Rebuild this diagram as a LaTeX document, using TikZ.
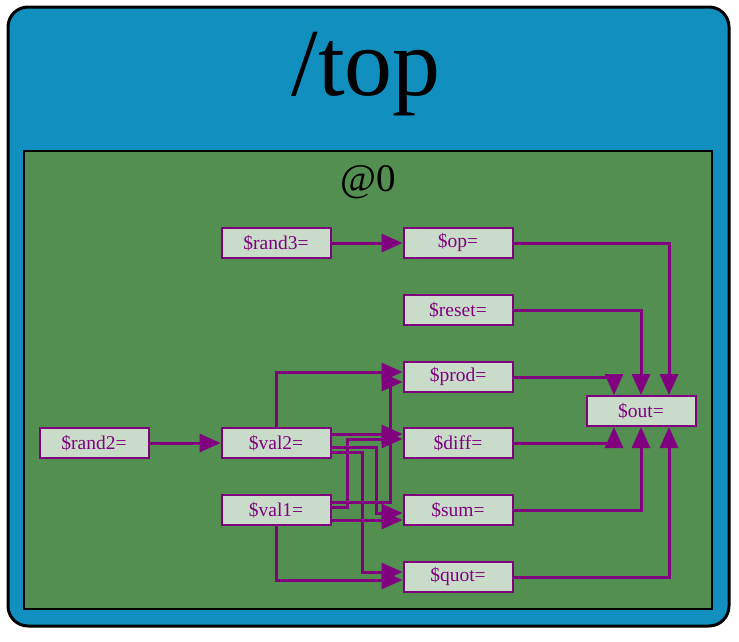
\documentclass[tikz,border=0pt]{standalone}
\usepackage{fontspec}
\setmainfont{Liberation Serif}
\usetikzlibrary{arrows.meta,calc}
\definecolor{topblue}{RGB}{17,144,192}
\definecolor{clgreen}{RGB}{82,143,80}
\definecolor{nodefill}{RGB}{201,220,201}
\definecolor{edgepurple}{RGB}{128,0,128}
\begin{document}
\begin{tikzpicture}[x=1pt,y=-1pt,
 sig/.style={draw=edgepurple, line width=2pt, fill=nodefill, minimum width=109pt, minimum height=30pt, inner sep=0pt, text=edgepurple, font=\fontsize{19.5}{22}\selectfont},
 wire/.style={draw=edgepurple, line width=3pt, -{Triangle[length=21pt,width=18pt]}}]
\useasboundingbox (0,0) rectangle (739,641);
\draw[line width=3pt, fill=topblue, rounded corners=20pt] (8,7) rectangle (729,626);
\node[anchor=base, inner sep=0pt, font=\fontsize{96}{100}\selectfont] (title) at (366,95) {/top};
\draw[line width=2.5pt, fill=clgreen] (24,151) rectangle (712,609);
\node[anchor=base, inner sep=0pt, font=\fontsize{39}{42}\selectfont] (cl) at (368,191) {@0};

\node[sig] (rand3) at (276,243) {\$rand3=};
\node[sig] (op) at (458,243) {\$op=};
\node[sig] (reset) at (458,310) {\$reset=};
\node[sig] (prod) at (458,377) {\$prod=};
\node[sig] (out) at (641,411) {\$out=};
\node[sig] (rand2) at (94,443) {\$rand2=};
\node[sig] (val2) at (276,443) {\$val2=};
\node[sig] (diff) at (458,443) {\$diff=};
\node[sig] (val1) at (276,510) {\$val1=};
\node[sig] (sum) at (458,510) {\$sum=};
\node[sig] (quot) at (458,577) {\$quot=};

\draw[wire] (rand3) -- (op);
\draw[wire] (rand2) -- (val2);
\draw[wire] (op.east) -| ([xshift=28pt]out.north);
\draw[wire] (reset.east) -| (out.north);
\draw[wire] (prod.east) -| ([xshift=-27pt]out.north);
\draw[wire] (diff.east) -| ([xshift=-27pt]out.south);
\draw[wire] (sum.east) -| (out.south);
\draw[wire] (quot.east) -| ([xshift=28pt]out.south);

\draw[wire] (val2.north) |- ([yshift=5pt]prod.west);
\draw[wire] ([yshift=8pt]val1.east) -- ++(59,0) |- ([yshift=-5pt]prod.west);
\draw[wire] ([yshift=9pt]val2.east) -- ([yshift=9pt]diff.west);
\draw[wire] ([yshift=3pt]val1.east) -- ++(16,0) |- ([yshift=4pt]diff.west);
\draw[wire] ([yshift=-4pt]val2.east) -- ++(45,0) |- ([yshift=-3pt]sum.west);
\draw[wire] ([yshift=-9pt]val2.east) -- ++(31,0) |- ([yshift=5pt]quot.west);
\draw[wire] ([yshift=-10pt]val1.east) -- ([yshift=-10pt]sum.west);
\draw[wire] (val1.south) |- ([yshift=-3pt]quot.west);
\end{tikzpicture}
\end{document}
